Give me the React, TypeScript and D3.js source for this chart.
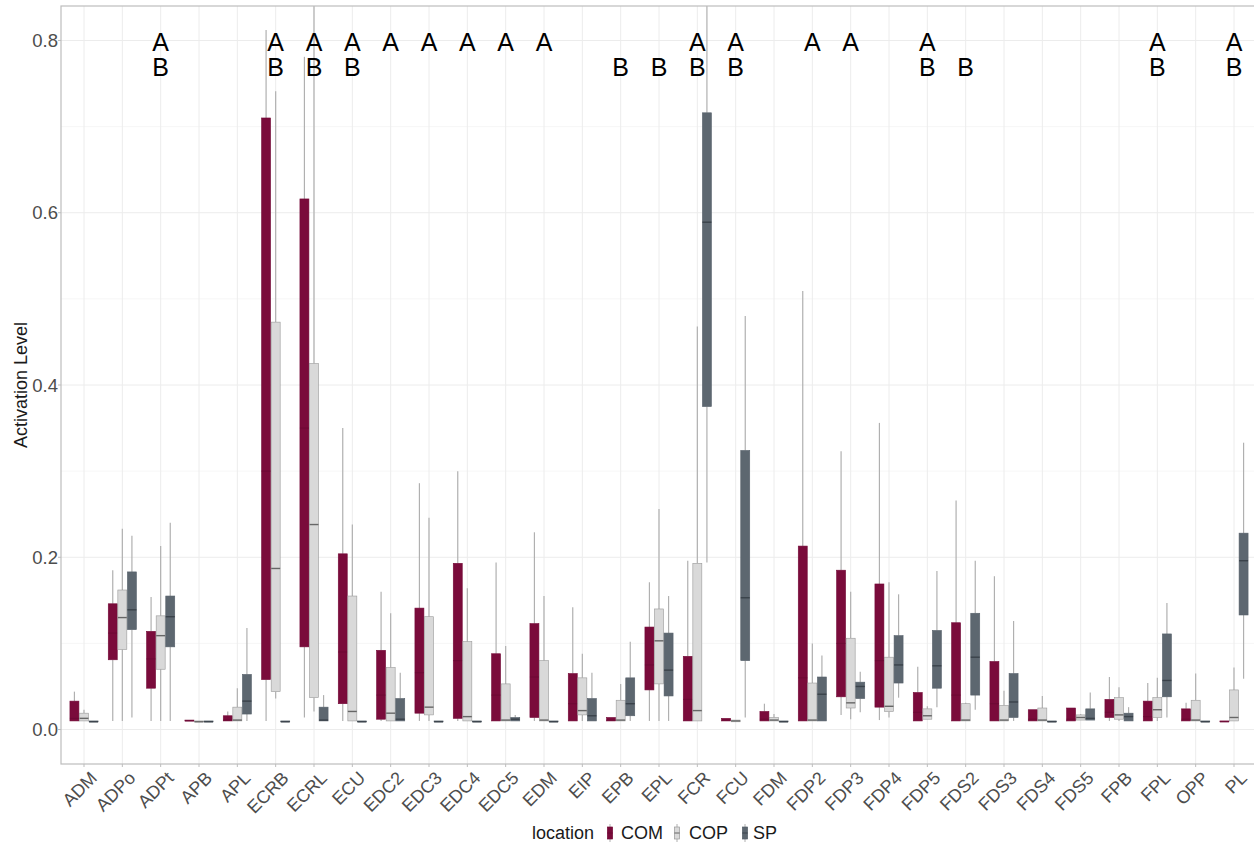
import React from "react";
import * as d3 from "d3";

// Muscle categories along the x axis
const categories = [
  "ADM", "ADPo", "ADPt", "APB", "APL", "ECRB", "ECRL", "ECU", "EDC2", "EDC3",
  "EDC4", "EDC5", "EDM", "EIP", "EPB", "EPL", "FCR", "FCU", "FDM", "FDP2",
  "FDP3", "FDP4", "FDP5", "FDS2", "FDS3", "FDS4", "FDS5", "FPB", "FPL", "OPP", "PL",
];

const locations = ["COM", "COP", "SP"];

// Box statistics per muscle: [lower whisker, Q1, median, Q3, upper whisker]
const comStats = [
  [0.010, 0.010, 0.013, 0.033, 0.044],
  [0.010, 0.081, 0.112, 0.146, 0.185],
  [0.010, 0.048, 0.082, 0.114, 0.154],
  [0.010, 0.010, 0.010, 0.011, 0.011],
  [0.010, 0.010, 0.011, 0.016, 0.021],
  [0.010, 0.058, 0.300, 0.710, 0.812],
  [0.014, 0.096, 0.350, 0.616, 0.781],
  [0.010, 0.030, 0.090, 0.204, 0.350],
  [0.010, 0.012, 0.040, 0.092, 0.160],
  [0.010, 0.019, 0.066, 0.141, 0.286],
  [0.010, 0.013, 0.080, 0.193, 0.300],
  [0.010, 0.010, 0.040, 0.088, 0.194],
  [0.010, 0.014, 0.061, 0.123, 0.229],
  [0.010, 0.010, 0.030, 0.065, 0.142],
  [0.010, 0.010, 0.011, 0.014, 0.014],
  [0.010, 0.046, 0.075, 0.119, 0.171],
  [0.010, 0.010, 0.035, 0.085, 0.196],
  [0.010, 0.010, 0.011, 0.013, 0.013],
  [0.010, 0.010, 0.012, 0.021, 0.030],
  [0.010, 0.010, 0.060, 0.213, 0.509],
  [0.017, 0.038, 0.100, 0.185, 0.323],
  [0.011, 0.026, 0.080, 0.169, 0.356],
  [0.010, 0.010, 0.020, 0.043, 0.073],
  [0.010, 0.010, 0.040, 0.124, 0.266],
  [0.010, 0.010, 0.030, 0.079, 0.178],
  [0.010, 0.010, 0.012, 0.023, 0.023],
  [0.010, 0.010, 0.012, 0.025, 0.025],
  [0.010, 0.014, 0.020, 0.035, 0.061],
  [0.010, 0.010, 0.015, 0.033, 0.054],
  [0.010, 0.010, 0.012, 0.024, 0.031],
  [0.009, 0.009, 0.009, 0.010, 0.010],
];

const copStats = [
  [0.010, 0.010, 0.013, 0.019, 0.023],
  [0.010, 0.093, 0.130, 0.162, 0.233],
  [0.010, 0.070, 0.109, 0.132, 0.213],
  [0.009, 0.009, 0.009, 0.010, 0.010],
  [0.010, 0.010, 0.011, 0.026, 0.048],
  [0.036, 0.044, 0.187, 0.473, 0.741],
  [0.021, 0.037, 0.238, 0.425, 0.900],
  [0.010, 0.010, 0.021, 0.155, 0.238],
  [0.010, 0.010, 0.019, 0.072, 0.135],
  [0.010, 0.017, 0.026, 0.131, 0.246],
  [0.010, 0.010, 0.015, 0.102, 0.164],
  [0.010, 0.010, 0.011, 0.053, 0.097],
  [0.010, 0.010, 0.011, 0.080, 0.155],
  [0.010, 0.017, 0.022, 0.060, 0.088],
  [0.010, 0.010, 0.011, 0.034, 0.053],
  [0.010, 0.053, 0.103, 0.140, 0.256],
  [0.010, 0.010, 0.022, 0.193, 0.468],
  [0.009, 0.009, 0.010, 0.011, 0.011],
  [0.010, 0.010, 0.011, 0.014, 0.018],
  [0.010, 0.010, 0.011, 0.054, 0.100],
  [0.012, 0.025, 0.031, 0.106, 0.160],
  [0.014, 0.021, 0.027, 0.084, 0.171],
  [0.012, 0.012, 0.016, 0.024, 0.027],
  [0.010, 0.010, 0.011, 0.030, 0.031],
  [0.010, 0.010, 0.011, 0.028, 0.045],
  [0.010, 0.010, 0.011, 0.025, 0.039],
  [0.011, 0.011, 0.014, 0.017, 0.018],
  [0.010, 0.012, 0.017, 0.037, 0.049],
  [0.010, 0.014, 0.023, 0.037, 0.060],
  [0.010, 0.010, 0.011, 0.034, 0.065],
  [0.010, 0.010, 0.014, 0.046, 0.072],
];

const spStats = [
  [0.009, 0.009, 0.009, 0.010, 0.010],
  [0.014, 0.116, 0.139, 0.183, 0.225],
  [0.010, 0.096, 0.131, 0.155, 0.240],
  [0.009, 0.009, 0.009, 0.010, 0.010],
  [0.010, 0.018, 0.033, 0.064, 0.118],
  [0.009, 0.009, 0.009, 0.010, 0.010],
  [0.010, 0.010, 0.011, 0.026, 0.040],
  [0.009, 0.009, 0.009, 0.010, 0.010],
  [0.010, 0.010, 0.012, 0.036, 0.066],
  [0.009, 0.009, 0.009, 0.010, 0.010],
  [0.009, 0.009, 0.009, 0.010, 0.010],
  [0.010, 0.010, 0.012, 0.014, 0.017],
  [0.009, 0.009, 0.009, 0.010, 0.010],
  [0.010, 0.010, 0.016, 0.036, 0.066],
  [0.010, 0.016, 0.030, 0.060, 0.102],
  [0.010, 0.039, 0.069, 0.112, 0.155],
  [0.194, 0.375, 0.589, 0.716, 0.920],
  [0.014, 0.080, 0.153, 0.324, 0.480],
  [0.009, 0.009, 0.009, 0.010, 0.010],
  [0.010, 0.010, 0.041, 0.061, 0.086],
  [0.020, 0.036, 0.050, 0.055, 0.067],
  [0.037, 0.054, 0.075, 0.109, 0.157],
  [0.026, 0.048, 0.074, 0.115, 0.184],
  [0.023, 0.040, 0.084, 0.135, 0.196],
  [0.010, 0.014, 0.032, 0.065, 0.126],
  [0.009, 0.009, 0.009, 0.010, 0.010],
  [0.011, 0.011, 0.013, 0.024, 0.043],
  [0.010, 0.010, 0.015, 0.019, 0.026],
  [0.014, 0.038, 0.057, 0.111, 0.147],
  [0.009, 0.009, 0.009, 0.010, 0.010],
  [0.059, 0.133, 0.196, 0.228, 0.333],
];

// Significance group letters shown above each muscle
const groupA = [
  "ADPt", "ECRB", "ECRL", "ECU", "EDC2", "EDC3", "EDC4", "EDC5", "EDM",
  "FCR", "FCU", "FDP2", "FDP3", "FDP5", "FPL", "PL",
];
const groupB = [
  "ADPt", "ECRB", "ECRL", "ECU", "EPB", "EPL", "FCR", "FCU", "FDP5", "FDS2", "FPL", "PL",
];

const yMajor = [0, 0.2, 0.4, 0.6, 0.8];
const yMinor = [0.1, 0.3, 0.5, 0.7];

const W = 1254;
const H = 846;
const panel = { left: 61, right: 1257, top: 6, bottom: 764 };
const FONT = "'Liberation Sans', Arial, Helvetica, sans-serif";

const styles: Record<string, { fill: string; stroke: string; median: string }> = {
  COM: { fill: "#7a0b3b", stroke: "#730a37", median: "#6c0934" },
  COP: { fill: "#d9d9d9", stroke: "#9a9a9a", median: "#666666" },
  SP: { fill: "#5d6770", stroke: "#56606a", median: "#3a424a" },
};
const WHISKER = "#b0b0b0";

const statsByLocation: Record<string, number[][]> = {
  COM: comStats,
  COP: copStats,
  SP: spStats,
};

export default function App() {
  const x = d3
    .scalePoint<string>()
    .domain(categories)
    .range([panel.left, panel.right])
    .padding(0.6);
  const y = d3.scaleLinear().domain([-0.04, 0.84]).range([panel.bottom, panel.top]);
  const step = x.step();
  const dodge = d3
    .scaleBand<string>()
    .domain(locations)
    .range([-0.375 * step, 0.375 * step]);
  const bw = dodge.bandwidth();
  const fmt = d3.format(".1f");

  const legendItems = [
    { loc: "COM", key: 610, text: 621 },
    { loc: "COP", key: 677, text: 689 },
    { loc: "SP", key: 745, text: 753 },
  ];

  return (
    <svg
      width={W}
      height={H}
      style={{ position: "absolute", left: 0, top: 0, background: "#ffffff" }}
      fontFamily={FONT}
    >
      <defs>
        <clipPath id="panel-clip">
          <rect
            x={panel.left}
            y={panel.top}
            width={panel.right - panel.left}
            height={panel.bottom - panel.top}
          />
        </clipPath>
      </defs>
      <rect x={0} y={0} width={W} height={H} fill="#ffffff" />

      {/* grid */}
      <g>
        {yMinor.map((v) => (
          <line
            key={"mn" + v}
            x1={panel.left}
            x2={panel.right}
            y1={y(v)}
            y2={y(v)}
            stroke="#f4f4f4"
            strokeWidth={0.7}
          />
        ))}
        {yMajor.map((v) => (
          <line
            key={"mj" + v}
            x1={panel.left}
            x2={panel.right}
            y1={y(v)}
            y2={y(v)}
            stroke="#ececec"
            strokeWidth={1}
          />
        ))}
        {categories.map((c) => (
          <line
            key={"vx" + c}
            x1={x(c)}
            x2={x(c)}
            y1={panel.top}
            y2={panel.bottom}
            stroke="#ececec"
            strokeWidth={1}
          />
        ))}
      </g>

      {/* boxplots */}
      <g clipPath="url(#panel-clip)">
        {categories.map((c, i) =>
          locations.map((loc) => {
            const [lw, q1, med, q3, uw] = statsByLocation[loc][i];
            const cx = (x(c) as number) + (dodge(loc) as number) + bw / 2;
            const st = styles[loc];
            const top = y(q3);
            const bottom = y(q1);
            return (
              <g key={c + loc}>
                <line x1={cx} x2={cx} y1={y(uw)} y2={top} stroke={WHISKER} strokeWidth={1.2} />
                <line x1={cx} x2={cx} y1={y(lw)} y2={bottom} stroke={WHISKER} strokeWidth={1.2} />
                <rect
                  x={cx - bw / 2 + 0.3}
                  y={top}
                  width={bw - 0.6}
                  height={Math.max(bottom - top, 0.8)}
                  fill={st.fill}
                  stroke={st.stroke}
                  strokeWidth={0.6}
                />
                <line
                  x1={cx - bw / 2 + 0.3}
                  x2={cx + bw / 2 - 0.3}
                  y1={y(med)}
                  y2={y(med)}
                  stroke={st.median}
                  strokeWidth={loc === "COM" ? 1 : 1.4}
                />
              </g>
            );
          })
        )}
      </g>

      {/* panel border */}
      <rect
        x={panel.left}
        y={panel.top}
        width={panel.right - panel.left}
        height={panel.bottom - panel.top}
        fill="none"
        stroke="#bdbdbd"
        strokeWidth={1.2}
      />

      {/* group letters */}
      <g fontSize={25} fill="#000000" textAnchor="middle">
        {groupA.map((c) => (
          <text key={"A" + c} x={x(c)} y={50.5}>
            A
          </text>
        ))}
        {groupB.map((c) => (
          <text key={"B" + c} x={x(c)} y={76}>
            B
          </text>
        ))}
      </g>

      {/* y axis */}
      <g fontSize={18.5} fill="#4d4d4d" textAnchor="end">
        {yMajor.map((v) => (
          <g key={"yt" + v}>
            <line x1={panel.left - 3} x2={panel.left} y1={y(v)} y2={y(v)} stroke="#bdbdbd" />
            <text x={panel.left - 3} y={y(v)} dy="0.36em">
              {fmt(v)}
            </text>
          </g>
        ))}
      </g>
      <text
        transform={`translate(27, ${(panel.top + panel.bottom) / 2}) rotate(-90)`}
        textAnchor="middle"
        fontSize={18}
        fill="#1a1a1a"
      >
        Activation Level
      </text>

      {/* x axis */}
      <g fontSize={18} fill="#4d4d4d" textAnchor="end">
        {categories.map((c) => (
          <g key={"xt" + c}>
            <line
              x1={x(c)}
              x2={x(c)}
              y1={panel.bottom}
              y2={panel.bottom + 3}
              stroke="#bdbdbd"
            />
            <text
              transform={`translate(${(x(c) as number) + 5}, ${panel.bottom + 6}) rotate(-45)`}
              dy="0.72em"
            >
              {c}
            </text>
          </g>
        ))}
      </g>

      {/* legend */}
      <g fontSize={18} fill="#1a1a1a">
        <text x={532} y={839}>
          location
        </text>
        {legendItems.map((it) => {
          const st = styles[it.loc];
          return (
            <g key={"lg" + it.loc}>
              <line x1={it.key} x2={it.key} y1={824} y2={842} stroke={WHISKER} strokeWidth={1} />
              <rect
                x={it.key - 2.6}
                y={827}
                width={5.2}
                height={12}
                fill={st.fill}
                stroke={st.stroke}
                strokeWidth={0.7}
              />
              <line
                x1={it.key - 2.6}
                x2={it.key + 2.6}
                y1={833}
                y2={833}
                stroke={st.median}
                strokeWidth={1}
              />
              <text x={it.text} y={839}>
                {it.loc}
              </text>
            </g>
          );
        })}
      </g>
    </svg>
  );
}
